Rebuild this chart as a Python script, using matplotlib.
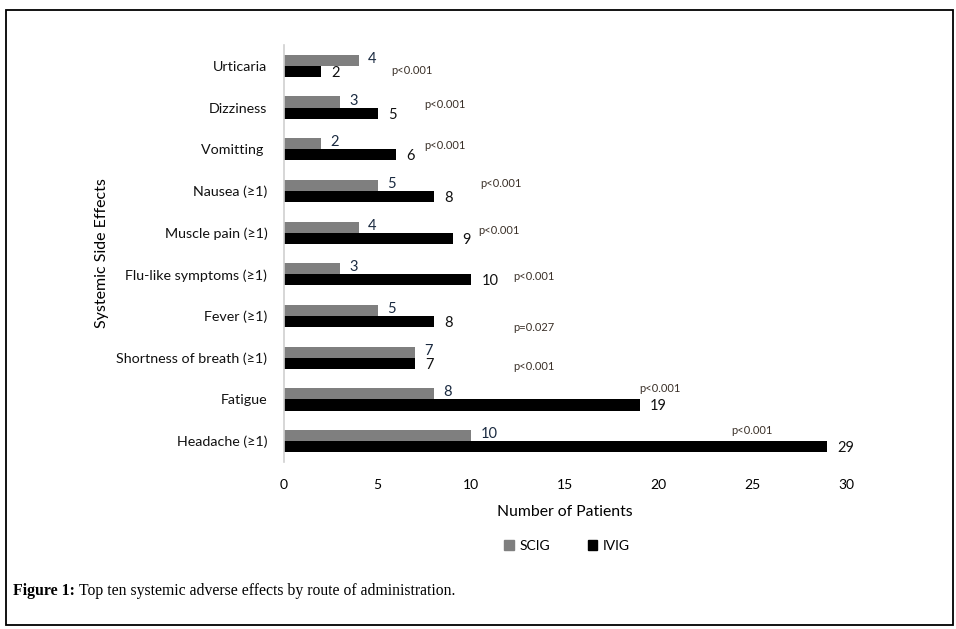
import matplotlib
matplotlib.use("Agg")
import matplotlib.pyplot as plt
from matplotlib.patches import Rectangle, Patch
import numpy as np

categories = ["Headache (≥1)", "Fatigue", "Shortness of breath (≥1)", "Fever (≥1)",
              "Flu-like symptoms (≥1)", "Muscle pain (≥1)", "Nausea (≥1)",
              "Vomitting ", "Dizziness", "Urticaria"]
scig = [10, 8, 7, 5, 3, 4, 5, 2, 3, 4]
ivig = [29, 19, 7, 8, 10, 9, 8, 6, 5, 2]
pvalues = ["p<0.001", "p<0.001", "p<0.001", "p=0.027", "p<0.001",
           "p<0.001", "p<0.001", "p<0.001", "p<0.001", "p<0.001"]
# annotation anchor points (data units) for the p-value texts
p_x = [23.85, 18.95, 12.25, 12.25, 12.25, 10.36, 10.46, 7.47, 7.47, 5.71]
p_dy = [0.26, 0.26, -0.22, -0.27, -0.05, 0.04, 0.19, 0.08, 0.08, -0.10]

plt.rcParams['font.family'] = ['Lato', 'DejaVu Sans']

fig = plt.figure(figsize=(9.56, 6.29), dpi=100)
ax = fig.add_axes([284/956, 1-462/629, 562/956, 417/629])

y = np.arange(len(categories))
h = 0.265
ax.barh(y + h/2, scig, height=h, color="#7f7f7f", label="SCIG")
ax.barh(y - h/2, ivig, height=h, color="#000000", label="IVIG")

ax.set_xlim(0, 30)
ax.set_ylim(-0.5, 9.5)
ax.set_xticks([0, 5, 10, 15, 20, 25, 30])
ax.set_yticks(y)
ax.set_yticklabels(categories, fontsize=10.3, color="#111111")
ax.tick_params(axis='both', length=0)
ax.tick_params(axis='x', labelsize=10, pad=12)
ax.tick_params(axis='y', pad=12)
for s in ["top", "right", "bottom"]:
    ax.spines[s].set_visible(False)
ax.spines["left"].set_color("#d0d0d0")
ax.spines["left"].set_linewidth(1.2)

ax.set_xlabel("Number of Patients", fontsize=11.3, labelpad=10)
ax.set_ylabel("Systemic Side Effects", fontsize=11.5, labelpad=5)

px = 30/562  # data units per pixel
py = 10/417  # data units per pixel (vertical)
for i in range(len(categories)):
    ax.text(scig[i] + 9*px, y[i] + h/2 + 1.5*py, str(scig[i]), ha='left', va='center',
            fontsize=10.5, color="#1a2a40")
    ax.text(ivig[i] + 10*px, y[i] - h/2 - 1.5*py, str(ivig[i]), ha='left', va='center',
            fontsize=10.5, color="#111111")
    ax.text(p_x[i], y[i] + p_dy[i], pvalues[i], ha='left', va='center',
            fontsize=8, color="#3a3028")

handles = [Patch(color="#7f7f7f"), Patch(color="#000000")]
fig.legend(handles, ["SCIG", "IVIG"], loc='center', bbox_to_anchor=(567/956, 1-546/629),
           ncol=2, frameon=False, fontsize=10, handlelength=0.7, handleheight=0.7,
           handletextpad=0.4, columnspacing=2.7)

fig.text(13/956, 1-591/629, "Figure 1:", fontsize=11.4, fontweight='bold',
         family='Liberation Serif', va='center', ha='left')
fig.text(79/956, 1-591/629, "Top ten systemic adverse effects by route of administration.",
         fontsize=11.3, family='Liberation Serif', va='center', ha='left')

fig.patches.append(Rectangle((5.5/956, 1-625/629), 947.5/956, 615.5/629,
                             transform=fig.transFigure, fill=False,
                             edgecolor='black', linewidth=1.3))

fig.savefig("out.png", dpi=100)
